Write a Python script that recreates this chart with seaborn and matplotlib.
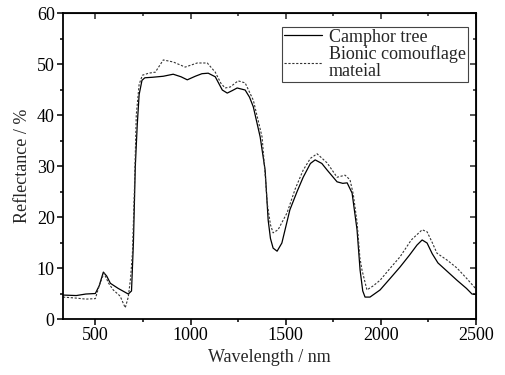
import matplotlib
matplotlib.use('Agg')
import matplotlib.pyplot as plt
import pandas as pd
import seaborn as sns
from matplotlib.ticker import MultipleLocator

# Camphor tree spectrum
wl_tree = [330, 400, 450, 500, 520, 542, 560, 579, 620, 673, 690, 700, 710, 720, 730,
           745, 760, 800, 857, 909, 950, 983, 1025, 1060, 1093, 1130, 1167, 1193, 1220,
           1245, 1287, 1310, 1330, 1366, 1392, 1408, 1420, 1434, 1455, 1480, 1522, 1560,
           1592, 1630, 1655, 1690, 1718, 1770, 1800, 1823, 1849, 1875, 1891, 1905, 1917,
           1943, 1996, 2050, 2101, 2150, 2190, 2217, 2243, 2270, 2300, 2350, 2400, 2450,
           2479, 2500]
refl_tree = [4.7, 4.6, 4.9, 5.0, 6.5, 9.2, 8.4, 7.0, 6.0, 4.9, 5.5, 15, 30, 38, 44,
             46.8, 47.3, 47.4, 47.6, 48.0, 47.5, 46.9, 47.6, 48.1, 48.2, 47.5, 44.9, 44.3, 44.8,
             45.3, 44.9, 43.5, 41.6, 35.7, 29.2, 19.4, 15.8, 13.9, 13.3, 14.9, 21.4, 25.0,
             27.8, 30.5, 31.2, 30.5, 29.2, 26.9, 26.6, 26.7, 24.7, 17.5, 9.6, 5.5, 4.3,
             4.3, 5.7, 8.0, 10.2, 12.5, 14.5, 15.5, 14.9, 12.8, 11.0, 9.3, 7.6, 6.0,
             4.9, 4.8]

# Bionic camouflage material spectrum
wl_bionic = [330, 400, 450, 500, 520, 545, 570, 594, 630, 657, 673, 685, 695, 705, 715,
             730, 747, 780, 815, 857, 909, 972, 1035, 1088, 1130, 1160, 1182, 1209, 1250,
             1287, 1330, 1376, 1395, 1403, 1420, 1434, 1460, 1507, 1550, 1592, 1630, 1665,
             1718, 1770, 1812, 1838, 1855, 1875, 1890, 1901, 1927, 1960, 1996, 2050, 2101,
             2160, 2217, 2243, 2270, 2295, 2350, 2400, 2450, 2495, 2500]
refl_bionic = [4.3, 4.1, 3.9, 4.0, 6.5, 9.0, 7.0, 5.7, 4.5, 2.2, 4.3, 8, 13, 25, 40,
               46, 47.8, 48.2, 48.4, 50.8, 50.4, 49.4, 50.2, 50.2, 48.4, 46.2, 45.3, 45.5, 46.7,
               46.3, 42.9, 35.7, 27, 22.7, 18.5, 16.9, 17.5, 20.8, 25.5, 29.2, 31.5, 32.4,
               30.6, 27.8, 28.2, 27.3, 24.5, 19, 12, 9.6, 5.7, 6.5, 7.6, 10.0, 12.2,
               15.5, 17.5, 17.1, 15, 12.9, 11.5, 10.0, 8.0, 6.1, 6.0]

labels = ["Camphor tree", "Bionic comouflage\nmateial"]

df_tree = pd.DataFrame({'wl': wl_tree, 'r': refl_tree})
df_bionic = pd.DataFrame({'wl': wl_bionic, 'r': refl_bionic})

sns.set_style("ticks")
plt.rcParams['font.family'] = ['Liberation Serif', 'DejaVu Serif']

fig = plt.figure(figsize=(5.06, 3.75), dpi=100)
ax = fig.add_axes([0.1245, 0.1493, 0.8162, 0.816])

sns.lineplot(data=df_tree, x='wl', y='r', ax=ax, color='black', linewidth=0.9,
             label=labels[0], sort=False)
sns.lineplot(data=df_bionic, x='wl', y='r', ax=ax, color='#333333', linewidth=0.8,
             linestyle=(0, (2.0, 1.5)), label=labels[1], sort=False)

ax.set_xlim(330, 2500)
ax.set_ylim(0, 60)
ax.xaxis.set_major_locator(MultipleLocator(500))
ax.xaxis.set_minor_locator(MultipleLocator(250))
ax.yaxis.set_major_locator(MultipleLocator(10))
ax.yaxis.set_minor_locator(MultipleLocator(5))

for s in ax.spines.values():
    s.set_linewidth(1.3)
    s.set_color('black')

ax.tick_params(which='both', direction='out', top=False, right=False,
               labelsize=13, width=1.1, colors='black')
ax.tick_params(which='major', length=4, pad=2)
ax.tick_params(which='minor', length=2.5)

# inward ticks on top and right
ax2 = ax.secondary_xaxis('top')
ax2.xaxis.set_major_locator(MultipleLocator(500))
ax2.xaxis.set_minor_locator(MultipleLocator(250))
ax2.tick_params(which='both', direction='in', labeltop=False, width=1.1)
ax2.tick_params(which='major', length=4)
ax2.tick_params(which='minor', length=2.5)
ax3 = ax.secondary_yaxis('right')
ax3.yaxis.set_major_locator(MultipleLocator(10))
ax3.yaxis.set_minor_locator(MultipleLocator(5))
ax3.tick_params(which='both', direction='in', labelright=False, width=1.1)
ax3.tick_params(which='major', length=4)
ax3.tick_params(which='minor', length=2.5)

ax.set_xlabel('Wavelength / nm', fontsize=13, labelpad=3)
ax.set_ylabel('Reflectance / %', fontsize=13, labelpad=4)

leg = ax.legend(loc='upper right', bbox_to_anchor=(0.98, 0.955), fontsize=13,
                frameon=True, fancybox=False, framealpha=1, edgecolor='#444444',
                handlelength=2.1, handletextpad=0.4, borderpad=0.1, labelspacing=0.0,
                borderaxespad=0.0)
leg.get_frame().set_linewidth(0.8)
for t in leg.get_texts():
    t.set_linespacing(0.95)

fig.savefig('out.png', dpi=100)
